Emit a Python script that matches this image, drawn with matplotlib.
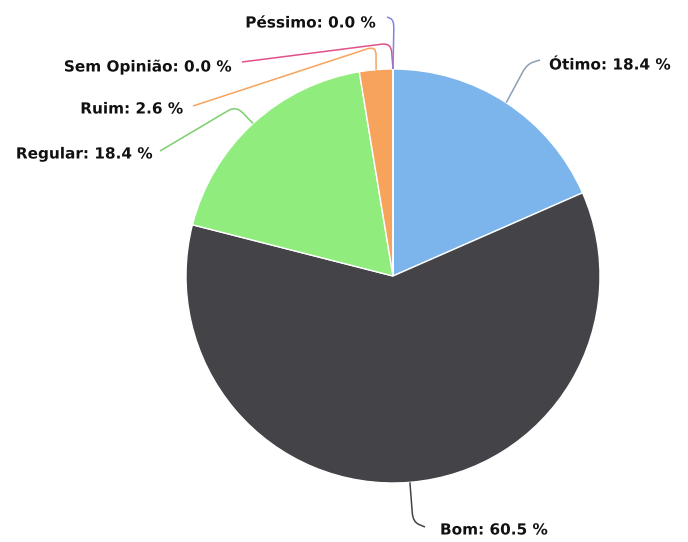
import matplotlib
matplotlib.use("Agg")
import matplotlib.pyplot as plt
import matplotlib.patheffects as pe
from matplotlib.path import Path
from matplotlib.patches import PathPatch
import numpy as np

# ── Data ─────────────────────────────────────────────────────────────────────
categories = ["Ótimo", "Bom", "Regular", "Ruim", "Sem Opinião", "Péssimo"]
percent = [18.4, 60.5, 18.4, 2.6, 0.0, 0.0]
colors = ["#7cb5ec", "#434348", "#90ed7d", "#f7a35c", "#f15c80", "#8085e9"]
line_colors = ["#8a9fb4", "#434348", "#7ccf6c", "#f7a35c", "#e0508a", "#8085e9"]

# ── Figure (axes in pixel units, y measured from top) ───────────────────────
W, H = 688, 542
fig = plt.figure(figsize=(W / 100, H / 100), dpi=100)
ax = fig.add_axes([0, 0, 1, 1])

cx, cy, r = 393, 276, 207
ax.pie(percent, colors=colors, startangle=90, counterclock=False,
       radius=r, center=(cx, H - cy), normalize=True,
       wedgeprops=dict(edgecolor="white", linewidth=1.0))
ax.set_xlim(0, W)
ax.set_ylim(0, H)
ax.set_aspect("equal")
ax.axis("off")

# mid-angle of each slice -> anchor point on the rim
frac = np.array(percent) / sum(percent)
cum = np.cumsum(frac) - frac / 2
mid = np.deg2rad(90 - 360 * cum)
anchors = [(cx + r * np.cos(a), cy - r * np.sin(a)) for a in mid]

# label layout: (text x, text y, ha, elbow point, end point)
layout = {
    "Ótimo":       (549, 65, "left",  (527, 64), (540, 60)),
    "Bom":         (440, 530, "left", (413, 522), (425, 527)),
    "Regular":     (152, 154, "right", (236, 106), (160, 151)),
    "Ruim":        (183, 109, "right", (376, 46), (193, 106)),
    "Sem Opinião": (231, 67, "right", (391, 43), (242, 62)),
    "Péssimo":     (375, 23, "right", (394, 20), (387, 17)),
}


def rounded(p0, p1, p2, rad=9):
    """Polyline p0 -> p1 -> p2 with a rounded corner at p1."""
    p0, p1, p2 = map(np.asarray, (p0, p1, p2))
    d0 = np.linalg.norm(p1 - p0)
    d2 = np.linalg.norm(p2 - p1)
    a = p1 + (p0 - p1) * min(rad, d0 * 0.5) / d0
    b = p1 + (p2 - p1) * min(rad, d2 * 0.5) / d2
    verts = [p0, a, p1, b, p2]
    codes = [Path.MOVETO, Path.LINETO, Path.CURVE3, Path.CURVE3, Path.LINETO]
    return Path([(x, H - y) for x, y in verts], codes)


for name, pct, anc, lc in zip(categories, percent, anchors, line_colors):
    tx, ty, ha, elbow, end = layout[name]
    ax.add_patch(PathPatch(rounded(anc, elbow, end), facecolor="none",
                           edgecolor=lc, lw=1.1))
    ax.text(tx, H - ty, f"{name}: {pct:.1f} %", ha=ha, va="center",
            fontsize=11, fontweight="bold", color="#111111",
            path_effects=[pe.withStroke(linewidth=2, foreground="white")])

fig.savefig("out.png", dpi=100, facecolor="white")
plt.close(fig)
